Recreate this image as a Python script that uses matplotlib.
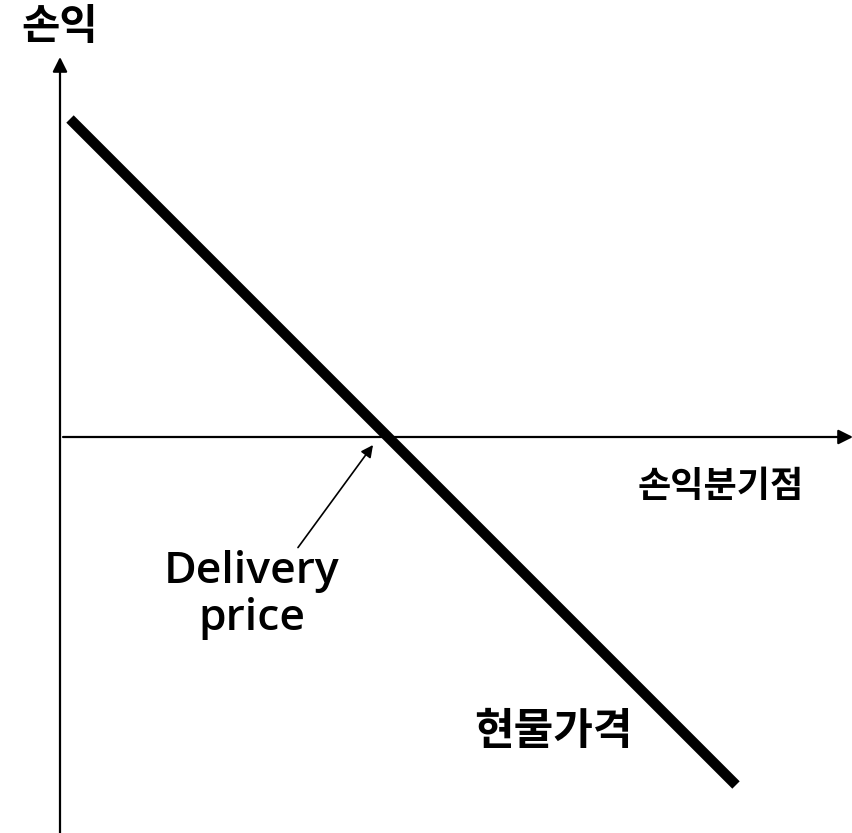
import matplotlib
matplotlib.use("Agg")
import matplotlib.pyplot as plt

plt.rcParams['font.family'] = ['Noto Sans CJK KR', 'DejaVu Sans']

# 선물 매도 포지션 손익 (가격 단위는 임의)
delivery_price = 3.28
spot = [0.10, 6.76]
payoff = [3.18, -3.48]

# 축 범위
x_min, x_max = -0.60, 7.93
y_min, y_max = -3.96, 4.37

fig = plt.figure(figsize=(8.53, 8.33), dpi=100)
ax = fig.add_axes([0, 0, 1, 1])
ax.set_xlim(x_min, x_max)
ax.set_ylim(y_min, y_max)
ax.axis('off')

# 축 화살표
ax.annotate('', xy=(0, 3.80), xytext=(0, y_min),
            arrowprops=dict(arrowstyle='-|>', color='black', lw=1.6,
                            mutation_scale=22, shrinkA=0, shrinkB=0))
ax.annotate('', xy=(x_max, 0), xytext=(0.03, 0),
            arrowprops=dict(arrowstyle='-|>', color='black', lw=1.6,
                            mutation_scale=22, shrinkA=0, shrinkB=0))

# 손익선
ax.plot(spot, payoff, color='black', lw=7.5, solid_capstyle='butt')

# 라벨
ax.text(0.0, 4.10, '손익', ha='center', va='center', fontsize=30, fontweight='bold')
ax.text(6.61, -0.49, '손익분기점', ha='center', va='center', fontsize=26, fontweight='bold')
ax.text(4.93, -2.94, '현물가격', ha='center', va='center', fontsize=31, fontweight='bold')

ax.annotate('Delivery\nprice', xy=(delivery_price - 0.15, -0.08), xytext=(1.92, -1.58),
            ha='center', va='center', fontsize=32, fontweight='semibold',
            family=['Open Sans', 'DejaVu Sans'], linespacing=1.1,
            arrowprops=dict(arrowstyle='-|>', color='black', lw=1.2,
                            mutation_scale=18, shrinkA=0, shrinkB=0,
                            relpos=(0.75, 1.0)))

fig.savefig('out.png', dpi=100)
